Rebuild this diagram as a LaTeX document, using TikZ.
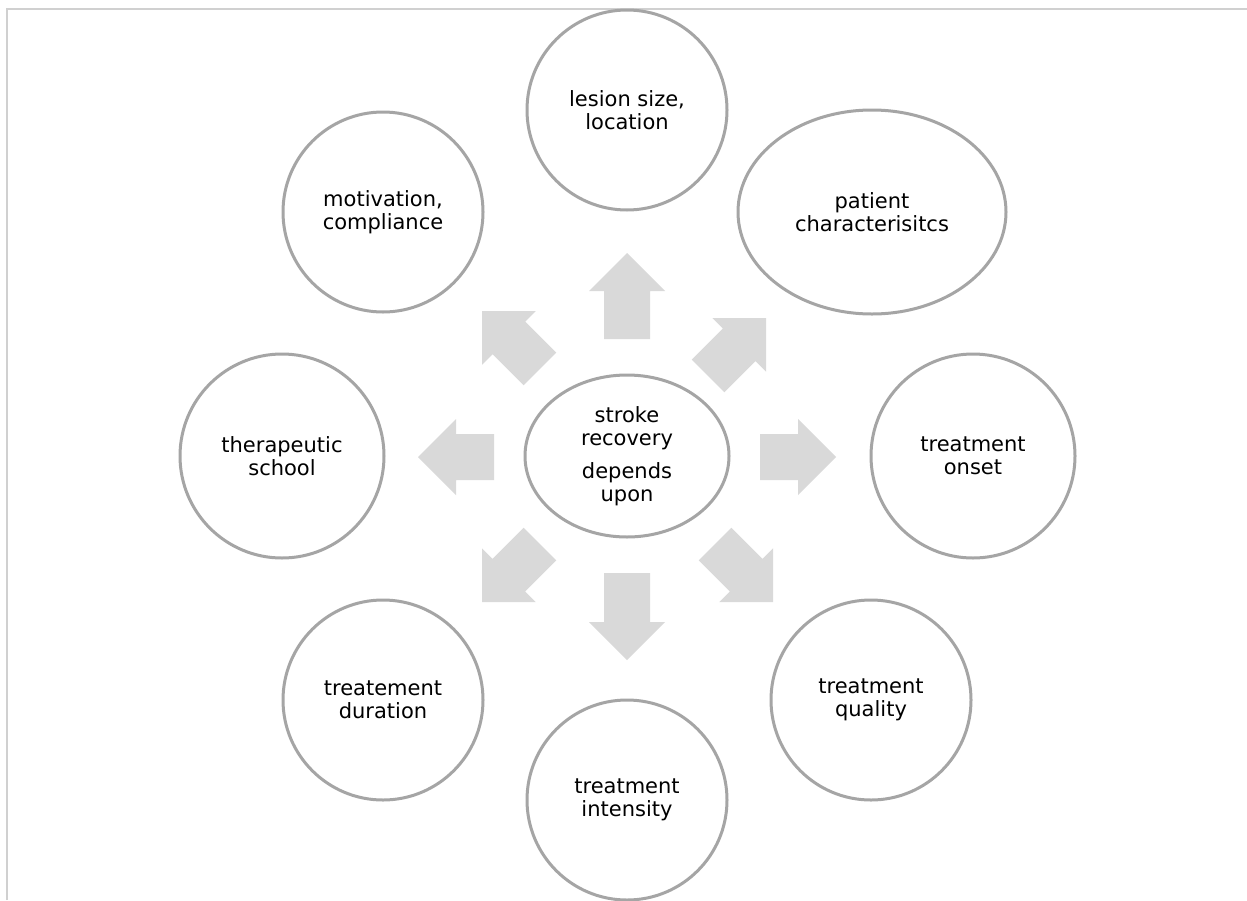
\documentclass[tikz,border=0pt]{standalone}
\usepackage{fontspec}
\setmainfont{DejaVu Sans}
\usetikzlibrary{shapes.geometric}
\definecolor{ringgray}{HTML}{A5A5A5}
\definecolor{arrowgray}{HTML}{D9D9D9}
\definecolor{framegray}{HTML}{D0D0D0}
\tikzset{
  ring/.style={draw=ringgray, line width=3pt, fill=white, circle, minimum size=200pt, inner sep=0pt, align=center, font=\fontsize{21}{23.5}\selectfont},
  oval/.style={draw=ringgray, line width=3pt, fill=white, ellipse, inner sep=0pt, align=center, font=\fontsize{21}{23.5}\selectfont},
  pics/barrow/.style={code={\fill[arrowgray] (0,0) -- (-38,38) -- (-38,23) -- (-#1,23) -- (-#1,-23) -- (-38,-23) -- (-38,-38) -- cycle;}}
}
\begin{document}
\begin{tikzpicture}[x=1pt, y=-1pt]
\useasboundingbox (0,0) rectangle (1247,900);
\fill[white] (0,0) rectangle (1247,900);
\draw[framegray, line width=2pt] (7,900) -- (7,9) -- (1247,9);

% block arrows
\pic[rotate=90]   at (627,253) {barrow=86};
\pic[rotate=-90]  at (627,660) {barrow=87};
\pic[rotate=180]  at (418,457) {barrow=76};
\pic[rotate=0]    at (836,457) {barrow=76};
\pic[rotate=135]  at (482,311) {barrow=82};
\pic[rotate=45]   at (766,318) {barrow=82};
\pic[rotate=-135] at (482,602) {barrow=82};
\pic[rotate=-45]  at (773,602) {barrow=82};

% nodes
\node[oval, minimum width=204pt, minimum height=162pt] (center) at (627,456) {stroke\\recovery\\[9pt]depends\\upon};
\node[ring] (lesion) at (627,110) {lesion size,\\location};
\node[oval, minimum width=268pt, minimum height=204pt] (patient) at (872,212) {patient\\characterisitcs};
\node[ring, minimum size=204pt] (onset) at (973,456) {treatment\\onset};
\node[ring] (quality) at (871,700) {treatment\\quality};
\node[ring] (intensity) at (627,800) {treatment\\intensity};
\node[ring] (duration) at (383,700) {treatement\\duration};
\node[ring, minimum size=204pt] (school) at (282,456) {therapeutic\\school};
\node[ring] (motivation) at (383,212) {motivation,\\compliance};
\end{tikzpicture}
\end{document}
